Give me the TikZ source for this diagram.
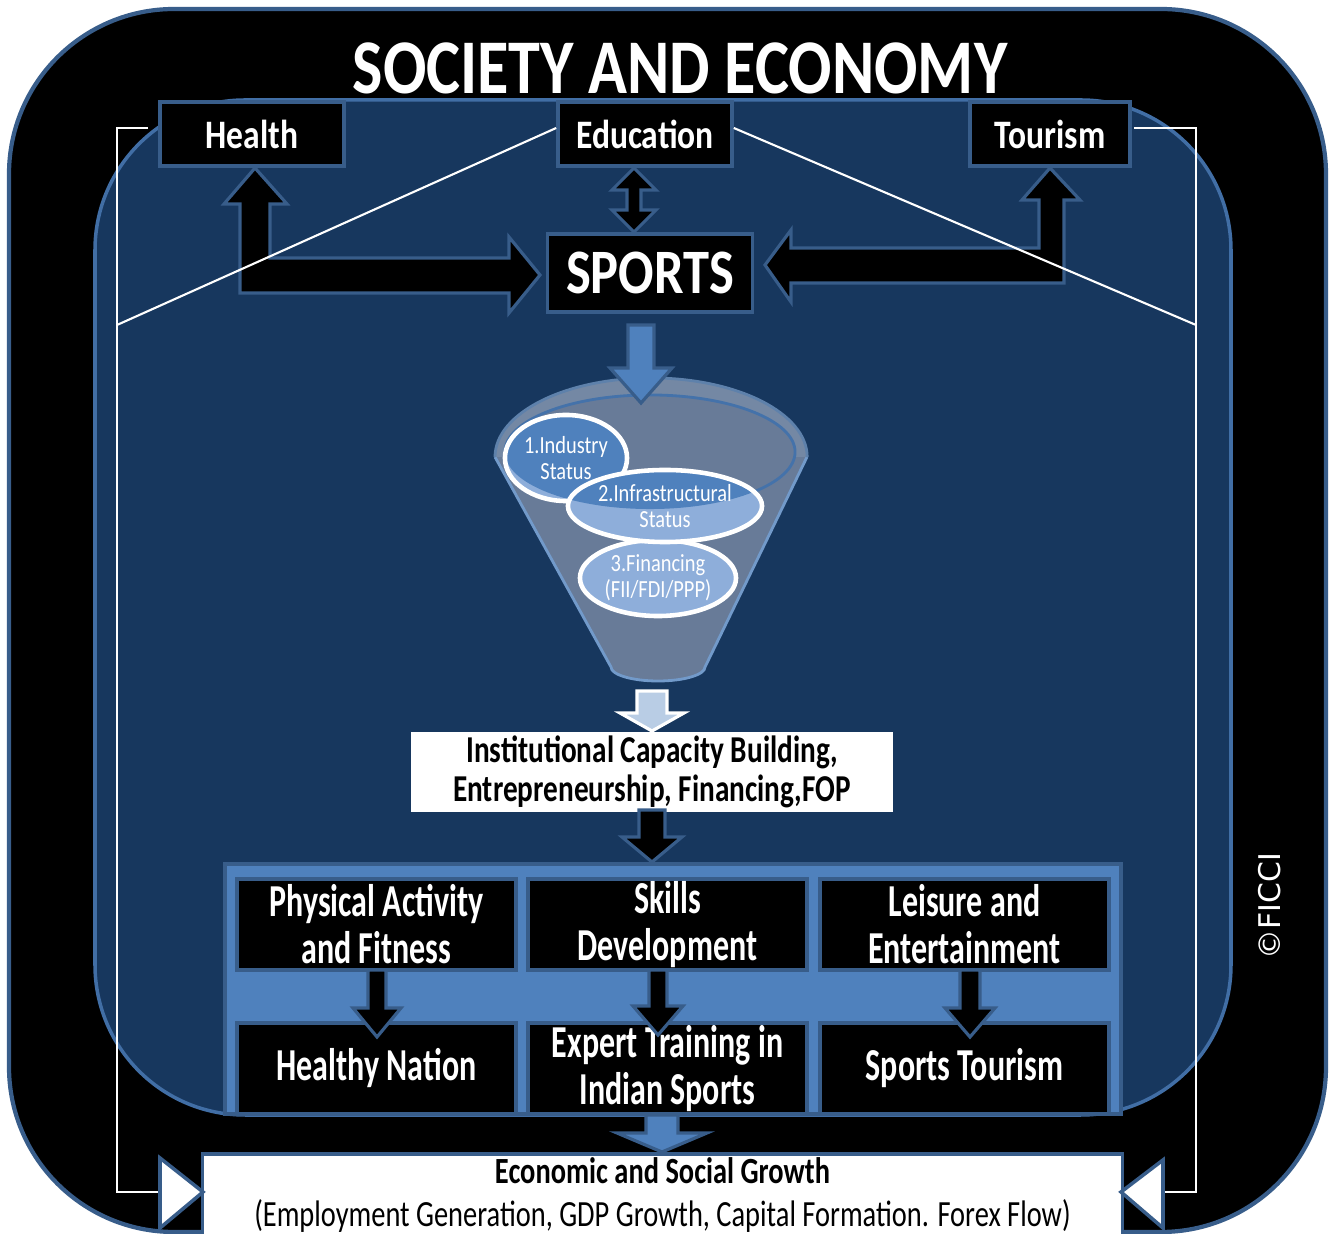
\documentclass[tikz,border=0pt]{standalone}
\usepackage{fontspec}
\setmainfont{Carlito}[FakeStretch=0.83]
\newfontfamily\condfont{Carlito}[FakeStretch=0.77]
\newfontfamily\gridfont{Carlito}[FakeStretch=0.70]
\newfontfamily\markfont{DejaVu Sans}
\usetikzlibrary{shapes.geometric,calc}

\definecolor{navy}{HTML}{17375E}
\definecolor{midblue}{HTML}{4F81BD}
\definecolor{edgeblue}{HTML}{385D8A}
\definecolor{paleblue}{HTML}{8EAEDA}
\definecolor{mistblue}{HTML}{B9CDE5}
\definecolor{funnelgray}{HTML}{687B98}
\definecolor{rimgray}{HTML}{7488A4}

% straight block arrow pointing down: [style]{x}{top}{head base}{tip}{shaft half}{head half}
\newcommand{\downblock}[7][]{%
  \draw[#1] (#2-#6,#3) -- (#2+#6,#3) -- (#2+#6,#4) -- (#2+#7,#4) -- (#2,#5)
    -- (#2-#7,#4) -- (#2-#6,#4) -- cycle;}

% bubble in the funnel: darker where it lies inside the rim
\newcommand{\bubble}[6]{%
  \fill[paleblue] (#2,#3) ellipse[x radius=#4cm, y radius=#5cm];
  \begin{scope}
    \clip (650,452) ellipse[x radius=1.45cm, y radius=0.57cm];
    \fill[midblue] (#2,#3) ellipse[x radius=#4cm, y radius=#5cm];
  \end{scope}
  \node[bubbletxt, minimum width=2*#4cm, minimum height=2*#5cm] (#1) at (#2,#3) {#6};}

\begin{document}
\begin{tikzpicture}[x=0.01cm, y=-0.01cm,
    topbox/.style={draw=edgeblue, line width=1pt, fill=black, text=white, inner sep=0pt,
      minimum height=0.64cm, font=\fontsize{11.5}{12}\selectfont\bfseries},
    cell/.style={draw=edgeblue, line width=1pt, fill=black, text=white, inner sep=0pt,
      minimum height=0.91cm, align=center, font=\fontsize{13}{13.4}\gridfont\bfseries},
    bubbletxt/.style={ellipse, draw=white, line width=1.3pt, text=white, inner sep=0pt,
      align=center, font=\fontsize{7}{7.5}\selectfont},
    blackblock/.style={fill=black, draw=edgeblue, line width=0.9pt, line join=miter},
    blueblock/.style={fill=midblue, draw=edgeblue, line width=0.9pt, line join=miter},
    paleblock/.style={fill=mistblue, draw=white, line width=0.9pt, line join=miter},
    guide/.style={white, line width=0.6pt}
]
\useasboundingbox (0,0) rectangle (1332,1234);
\clip (0,0) rectangle (1332,1234);
\fill[white] (0,0) rectangle (1332,1234);

% frame and inner field
\draw[edgeblue, line width=1.2pt, fill=black, rounded corners=1.65cm] (9,9) rectangle (1326,1232);
\draw[midblue!75!navy, line width=1pt, fill=navy, rounded corners=1.5cm] (95,100) rectangle (1231,1115);

\node[text=white, font=\fontsize{22}{24}\selectfont\bfseries] (title) at (680,68) {SOCIETY AND ECONOMY};

% top row
\node[topbox, minimum width=1.84cm] (health) at (252,134) {Health};
\node[topbox, minimum width=1.74cm] (edu) at (645,134) {Education};
\node[topbox, minimum width=1.60cm] (tour) at (1050,134) {Tourism};
\node[draw=edgeblue, line width=1pt, fill=black, text=white, inner sep=0pt,
  minimum width=2.05cm, minimum height=0.78cm, font=\fontsize{18}{20}\selectfont\bfseries] (sports) at (650,273) {SPORTS};

% links between sports and the top row
\draw[blackblock] (255,168) -- (287,204) -- (270,204) -- (270,258) -- (509,258) -- (509,237)
  -- (540,275) -- (509,313) -- (509,293) -- (240,293) -- (240,204) -- (224,204) -- cycle;
\draw[blackblock] (1050,168) -- (1080,200) -- (1064,200) -- (1064,283) -- (791,283) -- (791,302)
  -- (765,265) -- (791,230) -- (791,248) -- (1039,248) -- (1039,200) -- (1022,200) -- cycle;
\draw[blackblock] (634,168) -- (656,190) -- (641,190) -- (641,210) -- (656,210) -- (634,232)
  -- (612,210) -- (627,210) -- (627,190) -- (612,190) -- cycle;

% feedback brackets
\coordinate (ltri) at (160,1192);
\coordinate (rtri) at (1163,1192);
\draw[guide] ($(health.west)+(-10,-6)$) -| (117,1192) -- (ltri);
\draw[guide] ($(tour.east)+(2,-6)$) -| (1196,1192) -- (rtri);
\draw[guide] (117,325) -- ($(edu.west)+(0,-6)$);
\draw[guide] ($(edu.east)+(0,-6)$) -- (1196,325);

% funnel
\filldraw[fill=funnelgray, draw=midblue!80, line width=0.8pt] (495,457) -- (611,667)
  arc[start angle=180, end angle=360, x radius=0.47cm, y radius=0.14cm] -- (807,457);
\fill[rimgray] (495,457) arc[start angle=180, end angle=0, x radius=1.56cm, y radius=0.79cm] -- cycle;
\draw[midblue!70!gray, line width=0.8pt] (495,457) arc[start angle=180, end angle=0, x radius=1.56cm, y radius=0.79cm];
\filldraw[fill=funnelgray, draw=midblue!80!navy, line width=0.8pt] (650,452) ellipse[x radius=1.45cm, y radius=0.57cm];
\downblock[blueblock]{641}{325}{368}{403}{13}{31}

\bubble{ind}{566}{458}{0.61}{0.43}{1.Industry\\Status}
\bubble{fin}{658}{578}{0.78}{0.38}{3.Financing\\(FII/FDI/PPP)}
\bubble{infra}{665}{506}{0.97}{0.36}{2.Infrastructural\\Status}

\downblock[paleblock]{652}{691}{713}{731}{15}{32}

\node[fill=white, text=black, inner sep=0pt, minimum width=4.81cm, minimum height=0.8cm, align=center,
  font=\fontsize{10.8}{11}\condfont\bfseries] (icb) at (652,772)
  {Institutional Capacity Building,\\Entrepreneurship, Financing,FOP};

\downblock[blackblock]{652}{810}{837}{862}{13}{30}

% outcome grid
\draw[fill=midblue, draw=edgeblue, line width=1pt] (225,864) rectangle (1121,1114);
\node[cell, minimum width=2.79cm] (fit) at (376.5,924.5) {Physical Activity\\and Fitness};
\node[cell, minimum width=2.79cm] (skill) at (667.5,924.5) {Skills\\Development};
\node[cell, minimum width=2.89cm] (leis) at (964.5,924.5) {Leisure and\\Entertainment};
\node[cell, minimum width=2.79cm] (nation) at (376.5,1068.5) {Healthy Nation};
\node[cell, minimum width=2.79cm] (expert) at (667.5,1068.5) {Expert Training in\\Indian Sports};
\node[cell, minimum width=2.89cm] (stour) at (964.5,1068.5) {Sports Tourism};
\downblock[blackblock]{377}{970}{1008}{1037}{9}{24}
\downblock[blackblock]{658}{970}{1006}{1035}{9}{25}
\downblock[blackblock]{970}{970}{1008}{1037}{10}{25}

% growth
\downblock[blueblock]{662}{1115}{1133}{1152}{16}{45}
\node[draw=edgeblue, line width=1pt, fill=white, text=black, inner sep=0pt, anchor=north,
  minimum width=9.19cm, minimum height=0.82cm, align=center,
  font=\fontsize{10.5}{12.3}\condfont] (growth) at (662.5,1152)
  {\bfseries Economic and Social Growth\\(Employment Generation, GDP Growth, Capital Formation. Forex Flow)};
\filldraw[fill=white, draw=edgeblue, line width=1pt] (ltri |- 0,1158) -- (203,1192) -- (ltri |- 0,1228) -- cycle;
\filldraw[fill=white, draw=edgeblue, line width=1pt] (rtri |- 0,1160) -- (1121,1192) -- (rtri |- 0,1228) -- cycle;

\node[text=white, rotate=90, font=\fontsize{8.5}{10}\markfont] (mark) at (1270,906) {©FICCI};
\end{tikzpicture}
\end{document}
